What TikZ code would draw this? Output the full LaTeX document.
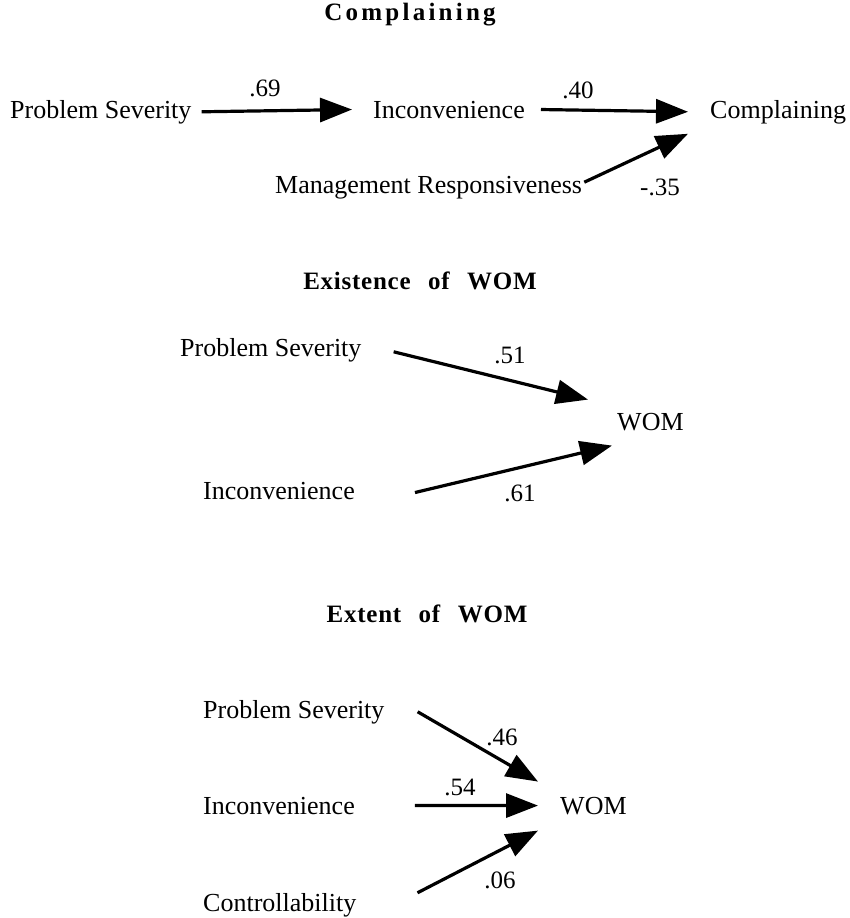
\documentclass[tikz,border=0pt]{standalone}
\usepackage{fontspec}
\setmainfont{Liberation Serif}
\newfontfamily\headfont{Liberation Serif}[LetterSpace=3,WordSpace=2.5]
\usetikzlibrary{arrows.meta, calc}

\tikzset{
  var/.style={font=\fontsize{26}{30}\selectfont, inner sep=0pt, anchor=base west},
  coef/.style={font=\fontsize{25}{28}\selectfont, inner sep=0pt},
  heading/.style={font=\headfont\bfseries\fontsize{25}{28}\selectfont, inner sep=0pt},
  link/.style={line width=3.2pt, -{Triangle[length=32pt,width=24pt]}},
}

\begin{document}
\begin{tikzpicture}[x=1pt, y=-1pt]
    \useasboundingbox (0,0) rectangle (849,918);

    % Complaining
    \node[heading] (tcmp) at (410,15) {\addfontfeature{LetterSpace=13}Complaining};
    \node[var] (ps1) at (10,118) {Problem Severity};
    \node[var] (inc1) at (373,118) {Inconvenience};
    \node[var] (cmp1) at (710,118) {Complaining};
    \node[var] (mr1) at (275,193) {Management Responsiveness};
    \node[coef] (c69) at (265,88) {.69};
    \node[coef] (c40) at (578,90) {.40};
    \node[coef] (c35) at (660,187) {-.35};

    \path[link]
    ($(ps1.east)+(10,0)$) edge ($(inc1.west)+(-21,0)$)
    ($(inc1.east)+(16,0)$) edge ($(cmp1.west)+(-22,0)$)
    ($(mr1.east)+(2,-5)$) edge ($(cmp1.west)+(-22,22)$);

    % Existence of WOM
    \node[heading] (texi) at (420,281) {Existence of WOM};
    \node[var] (ps2) at (180,356) {Problem Severity};
    \node[var] (wom2) at (617,430) {WOM};
    \node[var] (inc2) at (203,499) {Inconvenience};
    \node[coef] (c51) at (510,355) {.51};
    \node[coef] (c61) at (520,493) {.61};

    \path[link]
    ($(ps2.east)+(32,2)$) edge ($(wom2.west)+(-29,-22)$)
    ($(inc2.east)+(60,2)$) edge ($(wom2.west)+(-5,24)$);

    % Extent of WOM
    \node[heading] (text) at (427,614) {Extent of WOM};
    \node[var] (ps3) at (203,718) {Problem Severity};
    \node[var] (inc3) at (203,814) {Inconvenience};
    \node[var] (wom3) at (560,814) {WOM};
    \node[var] (ctl3) at (203,911) {Controllability};
    \node[coef] (c46) at (502,737) {.46};
    \node[coef] (c54) at (460,787) {.54};
    \node[coef] (c06) at (500,880) {.06};

    \path[link]
    ($(ps3.east)+(33,0)$) edge ($(wom3.west)+(-22,-24)$)
    ($(inc3.east)+(60,0)$) edge ($(wom3.west)+(-22,0)$)
    ($(ctl3.east)+(61,-12)$) edge ($(wom3.west)+(-22,25)$);
\end{tikzpicture}
\end{document}
